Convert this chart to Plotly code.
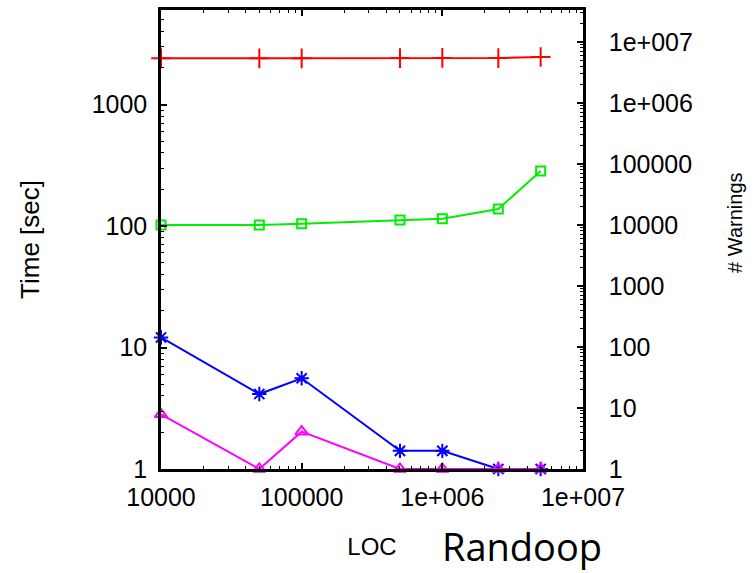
import plotly.graph_objects as go

# ---- data ----
loc = [1e4, 5e4, 1e5, 5e5, 1e6, 2.5e6, 5e6]
red_time = [2400, 2400, 2400, 2410, 2420, 2410, 2460]
green_warnings = [10000, 10000, 10500, 12100, 12700, 18300, 76800]
blue_time = [12.1, 4.14, 5.58, 1.41, 1.41, 1.0, 1.0]
magenta_time = [2.82, 1.0, 2.03, 1.0, 1.0, 1.0, 1.0]

label_alias = {"10,000": "10000", "100,000": "100000",
               "1,000,000": "1e+006", "10,000,000": "1e+007"}

FONT = "Liberation Sans, Arial, Helvetica, sans-serif"

fig = go.Figure()

fig.add_trace(go.Scatter(x=loc, y=red_time, mode="lines+markers", yaxis="y",
                         line=dict(color="#ff0000", width=2),
                         marker=dict(symbol="cross-thin", size=14, line=dict(color="#ff0000", width=2)),
                         cliponaxis=False, showlegend=False))
fig.add_trace(go.Scatter(x=loc, y=green_warnings, mode="lines+markers", yaxis="y2",
                         line=dict(color="#00ee00", width=2),
                         marker=dict(symbol="square-open", size=9, color="#00ee00", line=dict(width=2)),
                         cliponaxis=False, showlegend=False))
fig.add_trace(go.Scatter(x=loc, y=blue_time, mode="lines+markers", yaxis="y",
                         line=dict(color="#0000ff", width=2),
                         marker=dict(symbol="asterisk-open", size=12, color="#0000ff", line=dict(width=2, color="#0000ff")),
                         cliponaxis=False, showlegend=False))
fig.add_trace(go.Scatter(x=loc, y=magenta_time, mode="lines+markers", yaxis="y",
                         line=dict(color="#ff00ff", width=2),
                         marker=dict(symbol="triangle-up-open", size=11, color="#ff00ff", line=dict(width=2)),
                         cliponaxis=False, showlegend=False))

axis_common = dict(showgrid=False, zeroline=False, showline=True, linecolor="black", linewidth=2.5,
                   ticks="inside", ticklen=6, tickwidth=1.5, tickcolor="black",
                   tickfont=dict(family=FONT, size=25, color="black"))
minor_common = dict(dtick="D1", ticks="inside", ticklen=3, tickwidth=1.2, tickcolor="black", showgrid=False)

fig.update_layout(
    width=755, height=573,
    margin=dict(l=161, r=172, t=10, b=104),
    paper_bgcolor="white", plot_bgcolor="white",
    template="none",
    xaxis=dict(type="log", range=[4, 7], tickmode="linear", tick0=0, dtick=1,
               exponentformat="none", labelalias=label_alias, mirror="ticks",
               minor=minor_common, ticklabelstandoff=4,
               title=dict(text="LOC", font=dict(family=FONT, size=24, color="black"), standoff=29),
               **axis_common),
    yaxis=dict(type="log", range=[0, 3.778], tickmode="linear", tick0=0, dtick=1,
               exponentformat="none", minor=minor_common, ticklabelstandoff=6,
               title=dict(text="Time [sec]", font=dict(family=FONT, size=26, color="black"), standoff=45),
               **axis_common),
    yaxis2=dict(type="log", range=[0, 7.525], tickmode="linear", tick0=0, dtick=1,
                exponentformat="none", labelalias=label_alias, overlaying="y", side="right",
                anchor="x", minor=minor_common, ticklabelstandoff=18,
                **axis_common),
    annotations=[
        dict(text="Randoop", xref="paper", yref="paper", x=0.855, y=-0.1678,
             xanchor="center", yanchor="middle", showarrow=False,
             font=dict(family="Open Sans, sans-serif", size=38, color="black")),
        dict(text="# Warnings", xref="paper", yref="paper", x=1.36, y=0.536,
             xanchor="center", yanchor="middle", showarrow=False, textangle=-90,
             font=dict(family=FONT, size=20, color="black")),
    ],
)

fig.write_html("out.html", config={"displayModeBar": False},
               post_script="document.body.style.margin='0';")
